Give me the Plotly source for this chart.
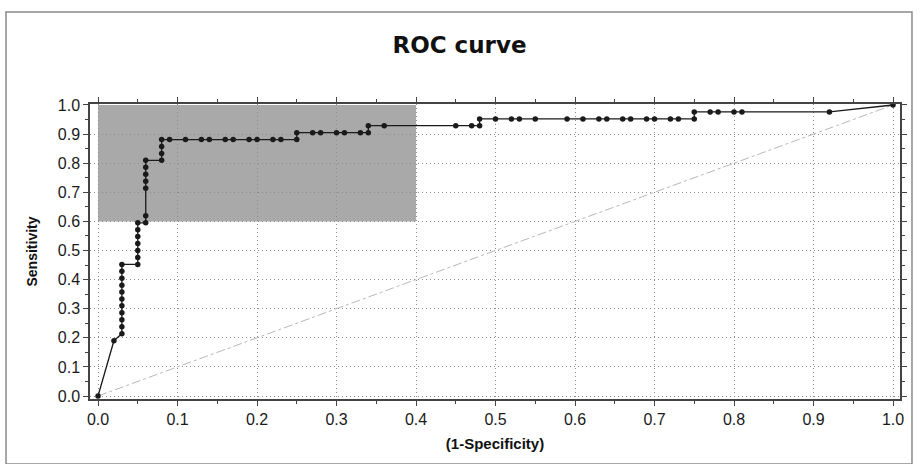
import plotly.graph_objects as go

# ROC curve points (1-Specificity, Sensitivity)
fpr = [0.0, 0.02,
       0.03, 0.03, 0.03, 0.03, 0.03, 0.03, 0.03, 0.03, 0.03, 0.03, 0.03,
       0.05, 0.05, 0.05, 0.05, 0.05, 0.05, 0.05,
       0.06, 0.06, 0.06, 0.06, 0.06, 0.06, 0.06,
       0.08, 0.08, 0.08, 0.08,
       0.09, 0.11, 0.13, 0.14, 0.16, 0.17, 0.19, 0.20, 0.22, 0.23, 0.25,
       0.25, 0.27, 0.28, 0.30, 0.31, 0.33, 0.34,
       0.34, 0.36, 0.45, 0.47, 0.48,
       0.48, 0.50, 0.52, 0.53, 0.55, 0.59, 0.61, 0.63, 0.64, 0.66, 0.67,
       0.69, 0.70, 0.72, 0.73, 0.75,
       0.75, 0.77, 0.78, 0.80, 0.81, 0.92,
       1.0]
tpr = [0.0, 0.190,
       0.214, 0.238, 0.262, 0.286, 0.310, 0.333, 0.357, 0.381, 0.405, 0.429, 0.452,
       0.452, 0.476, 0.500, 0.524, 0.548, 0.571, 0.595,
       0.595, 0.619, 0.714, 0.738, 0.762, 0.786, 0.810,
       0.810, 0.833, 0.857, 0.881,
       0.881, 0.881, 0.881, 0.881, 0.881, 0.881, 0.881, 0.881, 0.881, 0.881, 0.881,
       0.905, 0.905, 0.905, 0.905, 0.905, 0.905, 0.905,
       0.929, 0.929, 0.929, 0.929, 0.929,
       0.952, 0.952, 0.952, 0.952, 0.952, 0.952, 0.952, 0.952, 0.952, 0.952, 0.952,
       0.952, 0.952, 0.952, 0.952, 0.952,
       0.976, 0.976, 0.976, 0.976, 0.976, 0.976,
       1.0]

diag = [0.0, 1.0]
region_x = [0.0, 0.4]
region_y = [0.6, 1.0]

ticks = [round(i * 0.1, 1) for i in range(11)]
tick_text = [f"{t:.1f}" for t in ticks]

fig = go.Figure()
fig.add_trace(go.Scatter(x=diag, y=diag, mode="lines",
                         line=dict(color="#b8b8b8", width=1, dash="dashdot"),
                         hoverinfo="skip", showlegend=False))
fig.add_trace(go.Scatter(x=fpr, y=tpr, mode="lines+markers",
                         line=dict(color="#1a1a1a", width=1.3),
                         marker=dict(color="#1a1a1a", size=5.5),
                         showlegend=False))

fig.add_shape(type="rect", xref="x", yref="y",
              x0=region_x[0], x1=region_x[1], y0=region_y[0], y1=region_y[1],
              fillcolor="#a9a9a9", line=dict(width=0), layer="below")

# outer frame
fig.add_shape(type="rect", xref="paper", yref="paper",
              x0=-0.1037, x1=1.0148, y0=-0.22, y1=1.3119,
              line=dict(color="#8a8a8a", width=1.5), fillcolor="rgba(0,0,0,0)")

axis_common = dict(
    tickmode="array", tickvals=ticks, ticktext=tick_text,
    showgrid=True, gridcolor="#8c8c8c", griddash="1px,3px", gridwidth=1.2,
    zeroline=False, showline=True, linecolor="#444", linewidth=1.5,
    mirror="allticks", ticks="outside", ticklen=5, tickcolor="#444",
    tickfont=dict(family="Liberation Sans, Arial", size=16, color="#1a1a1a"),
    minor=dict(dtick=0.05, ticks="outside", ticklen=3, tickcolor="#444", showgrid=False),
)

fig.update_xaxes(range=[-0.0101, 1.0088], **axis_common,
                 title=dict(text="<b>(1-Specificity)</b>", standoff=12,
                            font=dict(family="Liberation Sans, Arial", size=15, color="#111")))
fig.update_yaxes(range=[-0.0103, 1.0034], **axis_common,
                 title=dict(text="<b>Sensitivity</b>", standoff=17,
                            font=dict(family="Liberation Sans, Arial", size=14, color="#111")))

fig.update_layout(
    width=919, height=464,
    margin=dict(l=90, r=19, t=104, b=65),
    paper_bgcolor="white", plot_bgcolor="white",
    title=dict(text="<b>ROC curve</b>", x=0.5, xanchor="center",
               y=1 - 45 / 464, yanchor="middle", yref="container",
               font=dict(family="DejaVu Sans, Verdana", size=23, color="#111")),
)

fig.write_html("out.html", config={"displayModeBar": False},
               post_script="document.body.style.margin='0';document.body.style.overflow='hidden';")
